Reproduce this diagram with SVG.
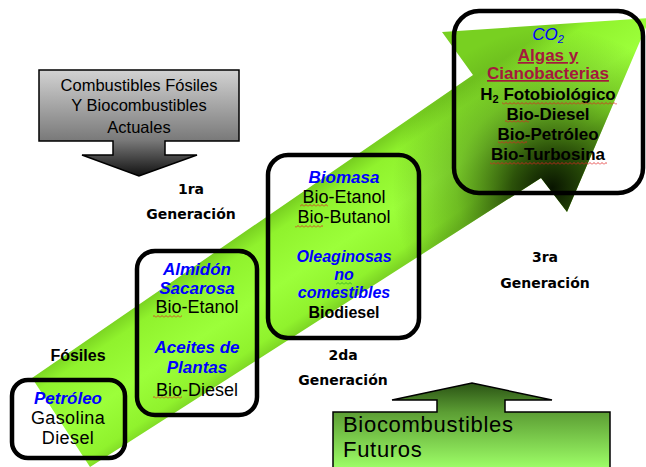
<svg xmlns="http://www.w3.org/2000/svg" width="646" height="467" viewBox="0 0 646 467">
<defs>
<style>
.t{font-family:"Liberation Sans",Arial,sans-serif;text-anchor:middle;fill:#000}
.r18{font-size:18px}
.b17{font-size:17px;font-weight:bold}
.bl{fill:#0000ff;font-style:italic;font-weight:bold;font-size:17px}
.red{fill:#a4193d;font-weight:bold;font-size:17px;text-decoration:underline}
.gen{font-family:"DejaVu Sans",sans-serif;font-weight:bold;font-size:14px;text-anchor:middle;fill:#000}
.box{fill:none;stroke:#000;stroke-width:4.5}
.sq{fill:url(#sqR)}
.sqg{fill:url(#sqG)}
</style>
<linearGradient id="shaftGrad" gradientUnits="userSpaceOnUse" x1="250" y1="228" x2="314" y2="324">
<stop offset="0" stop-color="#78d021"/>
<stop offset="0.15" stop-color="#90f22d"/>
<stop offset="0.55" stop-color="#9cff3a"/>
<stop offset="0.88" stop-color="#90f22d"/>
<stop offset="1" stop-color="#7cd424"/>
</linearGradient>
<radialGradient id="headShade" gradientUnits="userSpaceOnUse" cx="552" cy="188" r="160">
<stop offset="0" stop-color="#081400" stop-opacity="1"/>
<stop offset="0.25" stop-color="#1c3804" stop-opacity="0.85"/>
<stop offset="0.6" stop-color="#3a6a10" stop-opacity="0.4"/>
<stop offset="1" stop-color="#3a6a10" stop-opacity="0"/>
</radialGradient>
<linearGradient id="grayGrad" gradientUnits="userSpaceOnUse" x1="0" y1="70" x2="0" y2="176">
<stop offset="0" stop-color="#d2d2d2"/>
<stop offset="0.66" stop-color="#7a7a7a"/>
<stop offset="1" stop-color="#111"/>
</linearGradient>
<linearGradient id="futGrad" gradientUnits="userSpaceOnUse" x1="0" y1="383" x2="0" y2="467">
<stop offset="0" stop-color="#2a5214"/>
<stop offset="0.35" stop-color="#5c9e34"/>
<stop offset="1" stop-color="#9cfc66"/>
</linearGradient>
<pattern id="sqR" width="4" height="3" patternUnits="userSpaceOnUse"><path d="M0,2.5 L2,0.5 L4,2.5" fill="none" stroke="#e02020" stroke-width="0.8"/></pattern>
<pattern id="sqG" width="4" height="3" patternUnits="userSpaceOnUse"><path d="M0,2.5 L2,0.5 L4,2.5" fill="none" stroke="#20a020" stroke-width="0.8"/></pattern>
</defs>
<rect width="646" height="467" fill="#fff"/>

<g id="connectors">
<g id="big-arrow">
<polygon points="32,378 473,75 442,32 650,18 567,212 541,178 90,467" fill="url(#shaftGrad)"/>
<polygon points="32,378 473,75 442,32 650,18 567,212 541,178 90,467" fill="url(#headShade)"/>
</g>
<g id="arrow-actuales">
<path d="M39,70 H239 V141 H165 V155 H197 L139,176 L82,155 H113 V141 H39 Z" fill="url(#grayGrad)" stroke="#000" stroke-width="1.5"/>
<text class="t" font-size="16.5" fill="#1a1a1a"><tspan x="139" y="91">Combustibles Fósiles</tspan><tspan x="139" y="111">Y Biocombustibles</tspan><tspan x="139" y="133">Actuales</tspan></text>
</g>
<g id="arrow-futuros">
<path d="M333,472 V412 H437 V400 H392 L472,383 L552,400 H505 V412 H610 V472 Z" fill="url(#futGrad)" stroke="#000" stroke-width="1.5"/>
<text class="t" style="text-anchor:start" font-size="22" letter-spacing="0.7"><tspan x="343" y="432">Biocombustibles</tspan><tspan x="343" y="457">Futuros</tspan></text>
</g>
</g>

<g id="labels">
<text class="t" font-size="16" font-weight="bold" x="78" y="361">Fósiles</text>
<text class="gen" x="191" y="194">1ra</text>
<text class="gen" x="191" y="219">Generación</text>
<text class="gen" x="343" y="360">2da</text>
<text class="gen" x="343" y="385">Generación</text>
<text class="gen" x="545" y="262">3ra</text>
<text class="gen" x="545" y="288">Generación</text>
</g>

<g id="node-fosiles">
<rect class="box" x="12" y="380" width="113" height="78" rx="16"/>
<text class="t bl" x="68" y="404">Petróleo</text>
<text class="t r18" x="68" y="424" letter-spacing="0.4">Gasolina</text>
<text class="t r18" x="68" y="444" letter-spacing="0.4">Diesel</text>
</g>

<g id="node-1ra">
<rect class="box" x="137" y="251" width="120" height="164" rx="18"/>
<text class="t bl" x="197" y="275">Almidón</text>
<text class="t bl" x="197" y="294">Sacarosa</text>
<text class="t r18" x="197" y="313">Bio-Etanol</text>
<rect class="sq" x="153" y="315" width="29" height="3"/>
<text class="t bl" x="197" y="353">Aceites de</text>
<text class="t bl" x="197" y="373">Plantas</text>
<text class="t r18" x="197" y="396">Bio-Diesel</text>
<rect class="sq" x="153" y="396" width="29" height="3"/>
</g>

<g id="node-2da">
<rect class="box" x="268" y="155" width="151" height="183" rx="20"/>
<text class="t bl" x="344" y="183">Biomasa</text>
<text class="t r18" x="344" y="203">Bio-Etanol</text>
<rect class="sq" x="300" y="204" width="28" height="3"/>
<text class="t r18" x="344" y="223">Bio-Butanol</text>
<rect class="sq" x="295" y="225" width="28" height="3"/>
<text class="t bl" style="font-size:16px" x="344" y="262">Oleaginosas</text>
<text class="t bl" style="font-size:16px" x="344" y="280">no</text>
<rect class="sqg" x="336" y="282" width="16" height="3"/>
<text class="t bl" style="font-size:16px" x="344" y="298">comestibles</text>
<text class="t" font-size="16" font-weight="bold" x="344" y="318">Biodiesel</text>
</g>

<g id="node-3ra">
<rect class="box" x="454" y="11" width="189" height="182" rx="25"/>
<text class="t" font-style="italic" font-size="17" x="548" y="40" style="fill:#0000ff">CO<tspan font-size="11" dy="3">2</tspan></text>
<text class="t red" x="548" y="61">Algas y</text>
<text class="t red" x="548" y="79">Cianobacterias</text>
<text class="t b17" x="548" y="100">H<tspan font-size="11" dy="3">2</tspan><tspan dy="-3"> Fotobiológico</tspan></text>
<rect class="sq" x="502" y="102" width="115" height="3"/>
<text class="t b17" x="548" y="120">Bio-Diesel</text>
<rect class="sq" x="505" y="120" width="24" height="3"/>
<text class="t b17" x="548" y="140">Bio-Petróleo</text>
<rect class="sq" x="498" y="141" width="29" height="3"/>
<text class="t b17" x="548" y="160">Bio-Turbosina</text>
<rect class="sq" x="490" y="162" width="117" height="3"/>
</g>
</svg>
